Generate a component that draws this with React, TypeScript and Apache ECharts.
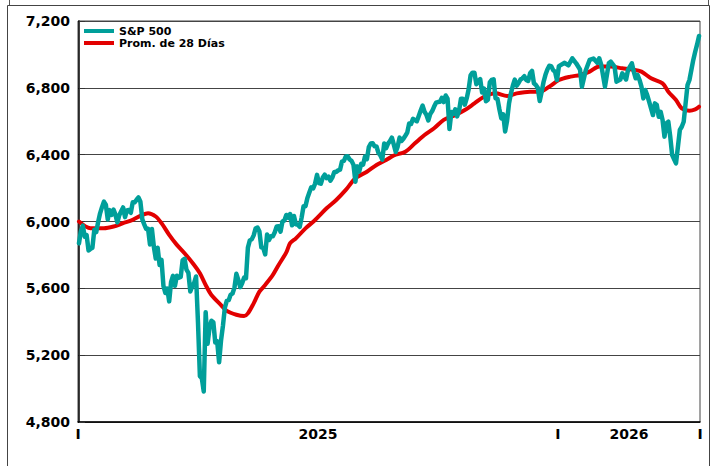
import { useEffect, useRef } from 'react';
import * as echarts from 'echarts';

// S&P 500 daily closes, 2025 (trading-day index 0..249)
const spx2025: number[] = [
  // Jan
  5869, 5942, 5975, 5909, 5918, 5827, 5836, 5843, 5950, 5937, 5997, 6049, 6086, 6119, 6101, 6012, 6068, 6039, 6071, 6041,
  // Feb
  5995, 6038, 6061, 6084, 6026, 6066, 6069, 6052, 6115, 6115, 6130, 6144, 6118, 6013, 5983, 5955, 5956, 5862, 5955,
  // Mar
  5850, 5778, 5843, 5739, 5770, 5615, 5572, 5599, 5522, 5639, 5675, 5615, 5675, 5663, 5668, 5768, 5777, 5712, 5693, 5581, 5612,
  // Apr
  5633, 5671, 5397, 5074, 5062, 4983, 5457, 5268, 5363, 5406, 5397, 5276, 5283, 5158, 5288, 5376, 5485, 5525, 5529, 5561, 5569,
  // May
  5604, 5687, 5650, 5607, 5631, 5664, 5660, 5844, 5887, 5893, 5917, 5958, 5964, 5940, 5845, 5842, 5803, 5922, 5889, 5912, 5912,
  // Jun
  5936, 5970, 5971, 5939, 6000, 6006, 6039, 6022, 6045, 5977, 6033, 5983, 5981, 5968, 6025, 6092, 6092, 6141, 6173, 6205,
  // Jul
  6198, 6227, 6279, 6230, 6226, 6263, 6280, 6260, 6269, 6244, 6264, 6297, 6297, 6306, 6310, 6359, 6363, 6389, 6390, 6371, 6363, 6339,
  // Aug
  6238, 6330, 6299, 6345, 6340, 6389, 6373, 6446, 6467, 6469, 6450, 6449, 6411, 6396, 6370, 6467, 6439, 6466, 6481, 6502, 6460,
  // Sep
  6416, 6448, 6502, 6482, 6495, 6513, 6532, 6587, 6584, 6615, 6607, 6600, 6632, 6664, 6694, 6657, 6638, 6605, 6644, 6661, 6688,
  // Oct
  6711, 6715, 6716, 6740, 6715, 6754, 6735, 6553, 6655, 6644, 6671, 6629, 6664, 6735, 6735, 6699, 6738, 6792, 6875, 6891, 6891, 6822, 6840,
  // Nov
  6852, 6772, 6796, 6720, 6729, 6832, 6847, 6851, 6737, 6734, 6672, 6617, 6642, 6539, 6603, 6705, 6766, 6813, 6849,
  // Dec
  6813, 6829, 6850, 6857, 6870, 6847, 6841, 6887, 6901, 6827, 6817, 6800, 6721, 6775, 6835, 6878, 6910, 6932, 6930, 6906, 6896, 6846,
];

// S&P 500, 2026 (trading-day index, value)
const spx2026Idx: number[] = [
  250, 253, 255, 257, 259, 261, 262, 264, 266, 268, 270, 271, 272, 274, 276, 277, 279, 280, 282, 283,
  285, 286, 288, 289, 290, 291, 292, 293, 294, 295, 296, 297, 299, 300, 301, 302, 303, 304, 305, 306,
  307, 308, 309, 311, 312, 313, 314, 315, 316, 317, 318, 320, 321, 322, 323,
];
const spx2026Val: number[] = [
  6930, 6950, 6935, 6977, 6947, 6910, 6807, 6905, 6967, 6975, 6950, 6977, 6940, 6807, 6947, 6957, 6927, 6837, 6850, 6887,
  6850, 6907, 6947, 6897, 6857, 6877, 6847, 6807, 6737, 6787, 6757, 6717, 6637, 6707, 6697, 6627, 6657, 6607, 6508, 6588,
  6597, 6508, 6398, 6348, 6448, 6548, 6567, 6597, 6707, 6817, 6847, 6967, 7016, 7060, 7110,
];

// 28-day moving average (trading-day index, value)
const maIdx: number[] = [
  0, 6, 13, 18, 23, 28, 33, 36, 40, 43, 47, 51, 55, 60, 63, 66, 69, 74, 77, 82,
  86, 88, 91, 94, 97, 101, 104, 108, 110, 113, 118, 123, 129, 134, 139, 144, 150, 155, 160, 164,
  170, 175, 180, 185, 190, 196, 201, 206, 211, 217, 223, 228, 235, 240, 245, 250, 256, 261, 266, 271,
  277, 283, 288, 293, 298, 304, 307, 311, 314, 318, 321, 323,
];
const maVal: number[] = [
  6000, 5960, 5960, 5970, 5990, 6010, 6040, 6050, 6030, 5990, 5920, 5860, 5810, 5740, 5690, 5620, 5560, 5500, 5465, 5442,
  5434, 5450, 5510, 5580, 5620, 5680, 5740, 5815, 5870, 5899, 5959, 6009, 6079, 6129, 6189, 6259, 6298, 6338, 6368, 6395,
  6418, 6468, 6518, 6558, 6608, 6637, 6667, 6707, 6747, 6767, 6751, 6767, 6777, 6777, 6807, 6847, 6867, 6877, 6897, 6927,
  6927, 6917, 6910, 6897, 6857, 6827, 6777, 6727, 6677, 6663, 6671, 6687,
];

const seriesNames = ['S&P 500', 'Prom. de 28 Días'];
const yMin = 4800;
const yMax = 7200;
const yStep = 400;
const xLabelPos = [-0.5, 124.5, 249.5, 286.5, 323.5];
const xLabelText = ['I', '2025', 'I', '2026', 'I'];

const FONT = 'DejaVu Sans';

export default function App() {
  const ref = useRef<HTMLDivElement>(null);

  useEffect(() => {
    if (!ref.current) return;
    const chart = echarts.init(ref.current, null, { renderer: 'svg' });

    const spData: [number, number][] = [];
    spx2025.forEach((v, i) => spData.push([i, v]));
    spx2026Idx.forEach((idx, k) => spData.push([idx, spx2026Val[k]]));
    const maData: [number, number][] = maIdx.map((idx, k) => [idx, maVal[k]]);

    chart.setOption({
      animation: false,
      backgroundColor: '#fff',
      grid: {
        left: 78,
        right: 15,
        top: 21,
        bottom: 44,
        show: true,
        borderColor: '#444',
        borderWidth: 1,
        backgroundColor: 'transparent',
      },
      legend: {
        left: 84,
        top: 25,
        orient: 'vertical',
        padding: 0,
        itemGap: 0,
        itemWidth: 30,
        itemHeight: 4,
        icon: 'rect',
        selectedMode: false,
        data: seriesNames,
        textStyle: {
          fontFamily: FONT,
          fontWeight: 'bold',
          fontSize: 11,
          lineHeight: 12,
          color: '#000',
        },
      },
      xAxis: {
        type: 'value',
        min: -0.5,
        max: 323.5,
        axisLine: { show: true, lineStyle: { color: '#000', width: 1.5 } },
        axisTick: { show: false },
        splitLine: { show: false },
        axisLabel: {
          customValues: xLabelPos,
          showMinLabel: true,
          showMaxLabel: true,
          hideOverlap: false,
          margin: 5,
          fontFamily: FONT,
          fontWeight: 'bold',
          fontSize: 14,
          color: '#000',
          formatter: (v: number) => {
            const k = xLabelPos.findIndex((p) => Math.abs(p - v) < 0.01);
            return k >= 0 ? xLabelText[k] : '';
          },
        },
      },
      yAxis: {
        type: 'value',
        min: yMin,
        max: yMax,
        interval: yStep,
        axisLine: { show: true, lineStyle: { color: '#000', width: 1.5 } },
        axisTick: { show: true, inside: true, length: 6, lineStyle: { color: '#333', width: 1 } },
        splitLine: { show: true, lineStyle: { color: '#444', width: 1 } },
        axisLabel: {
          margin: 8,
          fontFamily: FONT,
          fontWeight: 'bold',
          fontSize: 14,
          color: '#000',
          formatter: (v: number) => v.toLocaleString('en-US'),
        },
      },
      series: [
        {
          name: seriesNames[0],
          type: 'line',
          data: spData,
          showSymbol: false,
          z: 3,
          color: '#009F9A',
          lineStyle: { color: '#009F9A', width: 4.5, cap: 'round', join: 'round' },
        },
        {
          name: seriesNames[1],
          type: 'line',
          data: maData,
          showSymbol: false,
          smooth: 0.3,
          z: 2,
          color: '#E20000',
          lineStyle: { color: '#E20000', width: 4, cap: 'round', join: 'round' },
        },
      ],
      graphic: [
        {
          type: 'rect',
          silent: true,
          z: -10,
          shape: { x: 9.5, y: -6, width: 699, height: 11.5 },
          style: { fill: 'none', stroke: '#555', lineWidth: 1 },
        },
        {
          type: 'rect',
          silent: true,
          z: -10,
          shape: { x: 7.5, y: 5.5, width: 702, height: 470 },
          style: { fill: 'none', stroke: '#444', lineWidth: 1 },
        },
      ],
    });

    return () => chart.dispose();
  }, []);

  return (
    <div
      ref={ref}
      style={{ position: 'absolute', left: 0, top: 0, width: 715, height: 466, background: '#fff' }}
    />
  );
}
